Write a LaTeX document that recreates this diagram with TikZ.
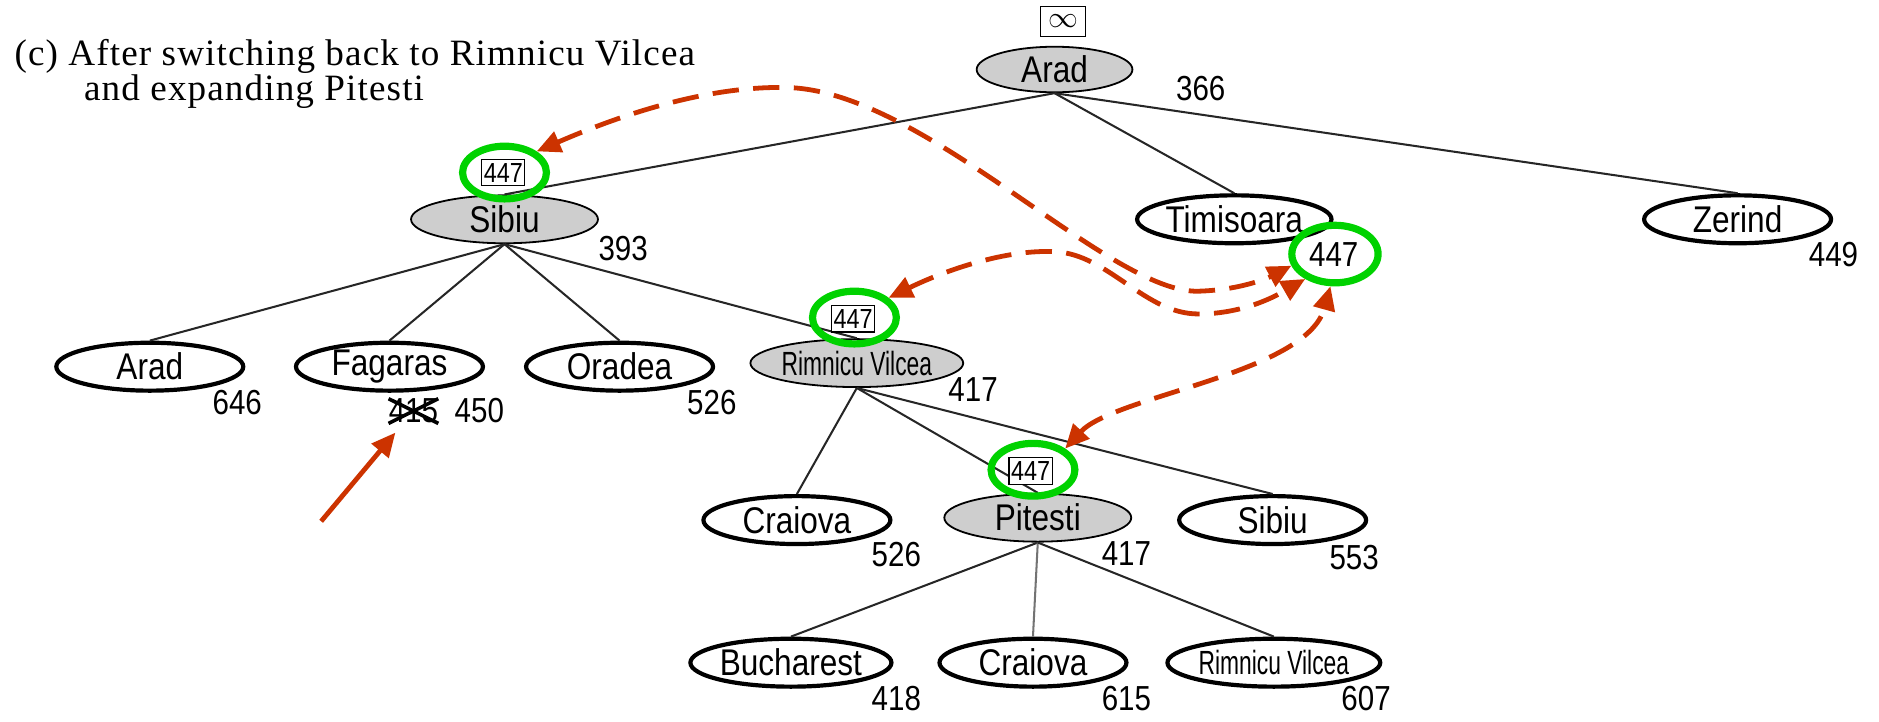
\documentclass[tikz,border=0pt]{standalone}
\usepackage{fontspec}
\setmainfont{Liberation Serif}
\newfontfamily\nf[FakeStretch=0.85]{Liberation Sans}
\newfontfamily\nfc[FakeStretch=0.68]{Liberation Sans}
\newfontfamily\tf[LetterSpace=3]{Liberation Serif}
\usetikzlibrary{shapes.geometric,arrows.meta,calc}
\definecolor{redarrow}{RGB}{204,51,0}
\definecolor{greenring}{RGB}{0,210,0}
\definecolor{nodegray}{RGB}{206,206,206}
\tikzset{
 city/.style={ellipse, draw=black, line width=3.5pt, fill=white, minimum width=156pt, minimum height=40pt, inner sep=0pt, font=\nf\fontsize{31}{31}\selectfont},
 expanded/.style={city, fill=nodegray, line width=1.5pt},
 smallname/.style={font=\nfc\fontsize{28}{28}\selectfont},
 fval/.style={font=\nf\fontsize{29}{29}\selectfont, inner sep=0pt},
 limitbox/.style={draw=black, line width=1pt, fill=white, inner sep=1.5pt, minimum width=36pt, minimum height=22pt, font=\nf\fontsize{23}{23}\selectfont},
 ring/.style={ellipse, draw=greenring, line width=6pt, minimum width=70pt, minimum height=44pt, inner sep=0pt},
 edge/.style={line width=1.7pt, draw=black!85},
 link/.style={draw=redarrow, line width=4pt, dash pattern=on 22pt off 12pt, {Triangle[length=20pt,width=18pt]}-{Triangle[length=20pt,width=18pt]}},
 pointer/.style={draw=redarrow, line width=4pt, -{Triangle[length=20pt,width=18pt]}},
}
\begin{document}
\begin{tikzpicture}[x=1pt,y=-1pt]
\useasboundingbox (0,0) rectangle (1568,602);
% title
\node[anchor=north west, align=left, inner sep=0pt, font=\tf\fontsize{31}{29}\selectfont] (title) at (12,33)
 {(c) After switching back to Rimnicu Vilcea\\\hspace*{58pt}and expanding Pitesti};
% nodes
\node[expanded, minimum width=130pt, minimum height=38pt] (arad0) at (880,58) {Arad};
\node[expanded] (sibiu) at (421,183) {Sibiu};
\node[city] (timisoara) at (1030,183) {Timisoara};
\node[city] (zerind) at (1450,183) {Zerind};
\node[city] (arad1) at (125,306) {Arad};
\node[city] (fagaras) at (325,306) {Fagaras};
\node[city] (oradea) at (517,306) {Oradea};
\node[expanded, smallname] (rv1) at (715,303) {Rimnicu Vilcea};
\node[city] (craiova1) at (665,434) {Craiova};
\node[expanded] (pitesti) at (866,432) {Pitesti};
\node[city] (sibiu2) at (1062,434) {Sibiu};
\node[city] (bucharest) at (660,553) {Bucharest};
\node[city] (craiova2) at (862,553) {Craiova};
\node[city, smallname] (rv2) at (1063,553) {Rimnicu Vilcea};
% edges
\draw[edge] (arad0.south) -- (sibiu.north);
\draw[edge] (arad0.south) -- (timisoara.north);
\draw[edge] (arad0.south) -- (zerind.north);
\draw[edge] (sibiu.south) -- (arad1.north);
\draw[edge] (sibiu.south) -- (fagaras.north);
\draw[edge] (sibiu.south) -- (oradea.north);
\draw[edge] (sibiu.south) -- (rv1.north);
\draw[edge] (rv1.south) -- (craiova1.north);
\draw[edge] (rv1.south) -- (pitesti.north);
\draw[edge] (rv1.south) -- (sibiu2.north);
\draw[edge] (pitesti.south) -- (bucharest.north);
\draw[edge, draw=black!55] (pitesti.south) -- (craiova2.north);
\draw[edge] (pitesti.south) -- (rv2.north);
% limit boxes
\node[limitbox, minimum width=38pt, minimum height=25pt, font=\fontsize{24}{24}\selectfont] (inf) at (887,18) {$\infty$};
\node[limitbox] (lsibiu) at (420,144) {447};
\node[limitbox] (lrv) at (712,266) {447};
\node[limitbox] (lpit) at (860,393) {447};
% f values
\node[fval] (f366) at (1002,74) {366};
\node[fval] (f393) at (520,207) {393};
\node[fval, fill=white, inner sep=1pt] (f447t) at (1113,212) {447};
\node[fval] (f449) at (1530,212) {449};
\node[fval] (f646) at (198,336) {646};
\node[fval] (cross) at (345,343) {415};
\draw[line width=3pt] (cross.south west) -- (cross.north east);
\draw[line width=3pt] (cross.north west) -- (cross.south east);
\node[fval] (f450) at (400,343) {450};
\node[fval] (f526a) at (594,336) {526};
\node[fval] (f417a) at (812,325) {417};
\node[fval] (f526b) at (748,463) {526};
\node[fval] (f417b) at (940,462) {417};
\node[fval] (f553) at (1130,465) {553};
\node[fval] (f418) at (748,583) {418};
\node[fval] (f615) at (940,583) {615};
\node[fval] (f607) at (1140,583) {607};
% rings
\node[ring] (rs) at (421,144) {};
\node[ring] (rr) at (713,265) {};
\node[ring] (rp) at (862,392) {};
\node[ring, minimum width=72pt, minimum height=48pt] (rt) at (1114,212) {};
% red links
\draw[link] (rs.north east) .. controls (520,95) and (590,72) .. (655,73)
  .. controls (770,74) and (925,245) .. (1000,243)
  .. controls (1035,242) and (1058,232) .. (rt.195);
\draw[link] (rr.30) .. controls (790,225) and (840,208) .. (880,210)
  .. controls (925,212) and (955,262) .. (1000,262)
  .. controls (1040,262) and (1068,245) .. (rt.220);
\draw[link] (rp.north east) .. controls (930,330) and (1090,312) .. (rt.262);
\coordinate (ptr) at (268,435);
\draw[pointer, shorten >=10pt] (ptr) -- (cross);
\end{tikzpicture}
\end{document}
